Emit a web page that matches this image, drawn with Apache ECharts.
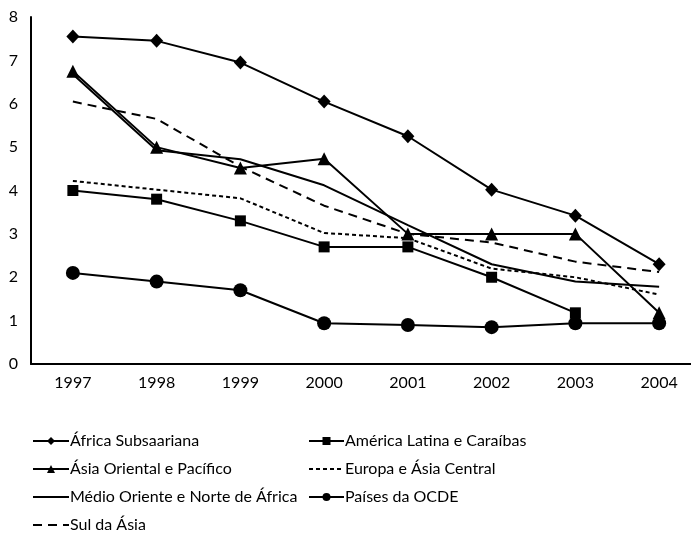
<!DOCTYPE html>
<html><head><meta charset="utf-8">
<script src="https://cdn.jsdelivr.net/npm/echarts@6/dist/echarts.min.js"></script>
<style>html,body{margin:0;padding:0;background:#fff}#c{width:691px;height:538px}</style>
</head><body><div id="c"></div>
<script>
var years = ['1997','1998','1999','2000','2001','2002','2003','2004'];
var africa   = [7.55, 7.45, 6.95, 6.05, 5.25, 4.02, 3.42, 2.30];
var americaL = [4.0, 3.8, 3.3, 2.7, 2.7, 2.0, 1.18, null];
var asiaOr   = [6.75, 5.0, 4.52, 4.73, 3.0, 3.0, 3.0, 1.18];
var europa   = [4.22, 4.02, 3.82, 3.02, 2.9, 2.2, 2.0, 1.6];
var medio    = [6.68, 4.93, 4.72, 4.12, 3.2, 2.3, 1.9, 1.78];
var ocde     = [2.1, 1.9, 1.7, 0.94, 0.9, 0.85, 0.94, 0.94];
var sulAsia  = [6.05, 5.65, 4.55, 3.65, 3.0, 2.8, 2.36, 2.12];
var yTicks = [0,1,2,3,4,5,6,7,8];

var FONT = 'Lato';
function s(name, data, symbol, size, dash){
  return {name:name, type:'line', data:data, symbol: symbol, symbolSize: size,
    showSymbol: symbol !== 'none',
    lineStyle:{color:'#000', width:2, type:dash||'solid'},
    itemStyle:{color:'#000'}, connectNulls:false, animation:false};
}
function legendItem(name, noSymbol){
  return noSymbol ? {name:name, itemStyle:{opacity:0}} : {name:name};
}
function makeLegend(left, width, items){
  return {orient:'vertical', left:left, top:433, padding:0, itemGap:12, itemHeight:10, itemWidth:width,
    textStyle:{color:'#000', fontSize:16, fontFamily:FONT, padding:[0,0,0,-4]},
    data:items};
}
var chart = echarts.init(document.getElementById('c'));
chart.setOption({
  animation:false,
  textStyle:{fontFamily:FONT},
  grid:{left:31, top:17, width:670, height:347, outerBoundsMode:'none', containLabel:false},
  xAxis:{type:'category', data:years, boundaryGap:true,
    axisLine:{lineStyle:{color:'#000', width:2}}, axisTick:{show:false},
    axisLabel:{color:'#000', fontSize:16, fontFamily:FONT, margin:11}},
  yAxis:{type:'value', min:0, max:8, interval:1,
    axisLine:{show:true, lineStyle:{color:'#000', width:2}}, axisTick:{show:false},
    splitLine:{show:false},
    axisLabel:{color:'#000', fontSize:16, fontFamily:FONT, margin:13,
      formatter:function(v){return yTicks.indexOf(v)>=0?String(v):'';}}},
  legend:[
    makeLegend(32, 36, [legendItem('África Subsaariana'), legendItem('Ásia Oriental e Pacífico'),
      legendItem('Médio Oriente e Norte de África', true), legendItem('Sul da Ásia', true)]),
    makeLegend(308, 35, [legendItem('América Latina e Caraíbas'), legendItem('Europa e Ásia Central', true),
      legendItem('Países da OCDE')])
  ],
  series:[
    s('África Subsaariana', africa, 'diamond', [13,14]),
    s('América Latina e Caraíbas', americaL, 'rect', 11),
    s('Ásia Oriental e Pacífico', asiaOr, 'triangle', 13),
    s('Europa e Ásia Central', europa, 'none', 0, [4,3]),
    s('Médio Oriente e Norte de África', medio, 'none', 0),
    s('Países da OCDE', ocde, 'circle', 14),
    s('Sul da Ásia', sulAsia, 'none', 0, [9,6])
  ]
});
</script></body></html>
